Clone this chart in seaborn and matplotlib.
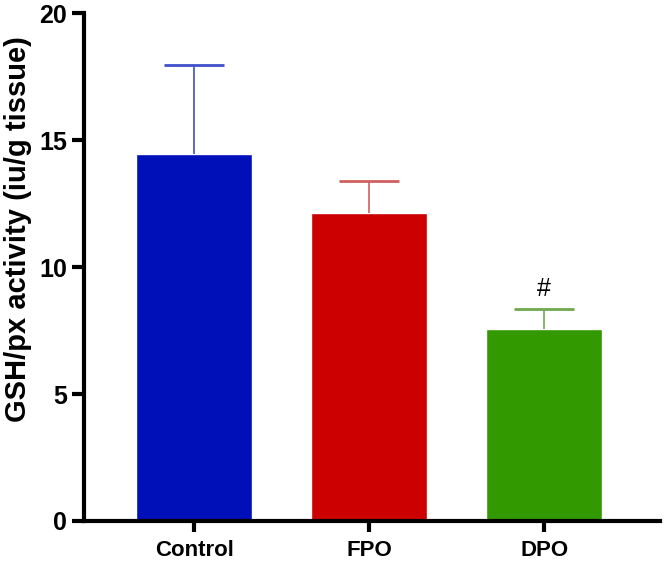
import numpy as np
import pandas as pd
import seaborn as sns
import matplotlib
matplotlib.use("Agg")
import matplotlib.pyplot as plt

# values
groups = ["Control", "FPO", "DPO"]
means = [14.45, 12.15, 7.55]
errors = [3.5, 1.25, 0.8]
bar_colors = ["#0010B8", "#CC0000", "#339900"]
err_colors = ["#4050C8", "#D06060", "#70A850"]
marks = ["", "", "#"]

df = pd.DataFrame({"group": groups, "value": means})

sns.set_style("ticks")
plt.rcParams['font.family'] = ['Liberation Sans', 'DejaVu Sans']

fig = plt.figure(figsize=(6.65, 5.75), dpi=100)
ax = fig.add_axes([0.126, 0.094, 0.866, 0.883])

sns.barplot(data=df, x="group", y="value", hue="group", palette=bar_colors,
            width=0.66, errorbar=None, legend=False, ax=ax, saturation=1)

# upper-only error bars (SD)
cap = 0.17
for i, (m, e) in enumerate(zip(means, errors)):
    ax.vlines(i, m, m + e, color=err_colors[i], lw=1.2, zorder=3)
    ax.hlines(m + e, i - cap, i + cap, color=err_colors[i], lw=2, zorder=3)
    if marks[i]:
        ax.text(i, m + e + 0.3, marks[i], ha="center", va="bottom",
                fontsize=18, color="black")

ax.set_xlim(-0.63, 2.66)
ax.set_ylim(0, 20)
ax.set_yticks([0, 5, 10, 15, 20])
ax.set_xlabel("")
ax.set_ylabel("GSH/px activity (iu/g tissue)", fontsize=21, fontweight="bold",
              color="black")
ax.yaxis.set_label_coords(-0.09, 0.575)

for s in ["top", "right"]:
    ax.spines[s].set_visible(False)
for s in ["left", "bottom"]:
    ax.spines[s].set_linewidth(3)
    ax.spines[s].set_color("black")

ax.tick_params(axis="y", width=3, length=9, color="black", labelcolor="black", pad=3)
ax.tick_params(axis="x", width=3, length=8, color="black", labelcolor="black", pad=6)
for lab in ax.get_yticklabels():
    lab.set_fontsize(18)
    lab.set_fontweight("bold")
for lab in ax.get_xticklabels():
    lab.set_fontsize(16)
    lab.set_fontweight("bold")

fig.savefig("out.png", dpi=100)
